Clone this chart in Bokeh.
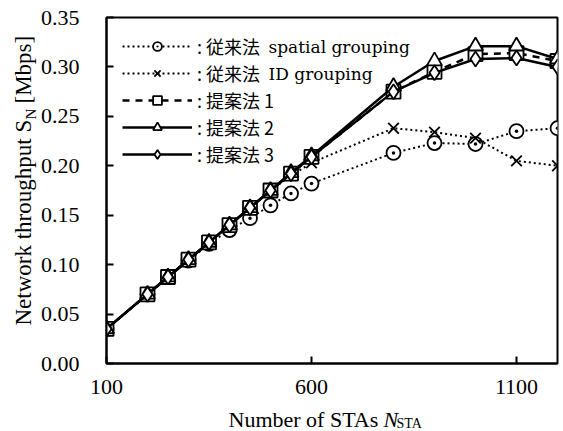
import math
from bokeh.plotting import figure
from bokeh.layouts import row, column
from bokeh.models import (Range1d, FixedTicker, PrintfTickFormatter, Legend, LegendItem, Label)
from bokeh.embed import file_html
from bokeh.resources import INLINE

# ---- data ----
n_sta = [100, 200, 250, 300, 350, 400, 450, 500, 550, 600, 800, 900, 1000, 1100, 1200]
conv_spatial = [0.035, 0.070, 0.0875, 0.104, 0.121, 0.135, 0.147, 0.160, 0.172, 0.182, 0.213, 0.223, 0.222, 0.235, 0.238]
conv_id = [0.035, 0.070, 0.0875, 0.105, 0.1225, 0.140, 0.1575, 0.175, 0.190, 0.203, 0.238, 0.234, 0.228, 0.205, 0.200]
prop1 = [0.035, 0.070, 0.0875, 0.105, 0.1225, 0.140, 0.1575, 0.175, 0.192, 0.209, 0.275, 0.295, 0.313, 0.314, 0.306]
prop2 = [0.035, 0.070, 0.0875, 0.105, 0.1225, 0.140, 0.1575, 0.175, 0.193, 0.210, 0.280, 0.306, 0.321, 0.321, 0.308]
prop3 = [0.035, 0.070, 0.0875, 0.105, 0.1225, 0.140, 0.1575, 0.175, 0.192, 0.209, 0.275, 0.294, 0.308, 0.309, 0.300]

legend_labels = [": 従来法", ": 従来法", ": 提案法 1", ": 提案法 2", ": 提案法 3"]
legend_suffix = ["spatial grouping", "ID grouping"]
x_ticks = [100, 600, 1100]
y_ticks = [0.0, 0.05, 0.10, 0.15, 0.20, 0.25, 0.30, 0.35]

SERIF = "Liberation Serif"
YLAB_W = 37      # width of the strip holding the y title
MAIN_H = 406     # height of the main plot (x title strip below it)

# ---- main plot ----
p = figure(width=563 - YLAB_W, height=MAIN_H, x_range=Range1d(100, 1200),
           y_range=Range1d(0, 0.35), output_backend="svg", toolbar_location=None,
           min_border_left=105 - YLAB_W, min_border_right=6, min_border_top=17,
           min_border_bottom=MAIN_H - 363)
p.grid.visible = False
p.outline_line_color = "black"
p.outline_line_width = 2
p.background_fill_color = "white"
p.border_fill_color = "white"

for ax in (p.xaxis[0], p.yaxis[0]):
    ax.axis_line_width = 2
    ax.major_tick_line_width = 2
    ax.major_tick_in = 7
    ax.major_tick_out = 0
    ax.minor_tick_line_color = None
    ax.major_label_text_font = SERIF
    ax.major_label_text_font_size = "22px"
    ax.major_label_text_color = "black"

p.xaxis.ticker = FixedTicker(ticks=x_ticks)
p.yaxis.ticker = FixedTicker(ticks=y_ticks)
p.yaxis.formatter = PrintfTickFormatter(format="%.2f")
p.yaxis.major_label_standoff = 27
p.xaxis.major_label_standoff = 16

# ---- series ----
series = [
    (conv_spatial, "circle_dot", "2 3", 2, 14),
    (conv_id, "x", "2 3", 2, 15),
    (prop1, "square", "7 6", 2.5, 14),
    (prop2, "triangle", None, 2.5, 15),
    (prop3, "diamond", None, 2.5, 15),
]
items = []
for (ys, marker, dash, lw, ms), lab in zip(series, legend_labels):
    kw = {}
    if dash:
        kw["line_dash"] = dash
    r_line = p.line(n_sta, ys, line_color="black", line_width=lw, **kw)
    r_sc = p.scatter(n_sta, ys, marker=marker, size=ms, line_color="black", line_width=1.8,
                     fill_color="white")
    items.append(LegendItem(label=lab, renderers=[r_line, r_sc]))

legend = Legend(items=items, location="top_left", margin=16, padding=0,
                glyph_width=70, glyph_height=22, label_height=22, spacing=1,
                label_standoff=5, label_text_font="Noto Sans CJK JP",
                label_text_font_size="18px", label_text_color="black",
                background_fill_alpha=0, border_line_color=None)
p.add_layout(legend)

for i, t in enumerate(legend_suffix):
    p.add_layout(Label(x=268 - YLAB_W, y=46 + 27.3 * i, x_units="canvas", y_units="canvas",
                       text=t, text_font="DejaVu Serif", text_font_size="17px",
                       text_color="black", text_align="left", text_baseline="middle"))


def strip(w, h):
    f = figure(width=w, height=h, output_backend="svg", toolbar_location=None,
               x_axis_type=None, y_axis_type=None, min_border=0,
               x_range=Range1d(0, 1), y_range=Range1d(0, 1))
    f.grid.visible = False
    f.outline_line_color = None
    f.background_fill_color = "white"
    f.border_fill_color = "white"
    return f


def lab(f, x, y, text, size, style="normal", angle=0.0):
    f.add_layout(Label(x=x, y=y, x_units="canvas", y_units="canvas", text=text,
                       angle=angle, text_font=SERIF, text_font_size=size,
                       text_font_style=style, text_align="left",
                       text_baseline="middle", text_color="black"))


# ---- y title strip: Network throughput S_N [Mbps] ----
ystrip = strip(YLAB_W, 431)
ang = math.pi / 2
lab(ystrip, 23, 325, "Network throughput S", "23px", angle=ang)
lab(ystrip, 30, 119, "N", "15px", angle=ang)
lab(ystrip, 23, 103, "[Mbps]", "23px", angle=ang)

# ---- x title strip: Number of STAs N_STA ----
xstrip = strip(563 - YLAB_W, 431 - MAIN_H)
lab(xstrip, 228 - YLAB_W, 418.5 - MAIN_H, "Number of STAs", "22px")
lab(xstrip, 383 - YLAB_W, 418.5 - MAIN_H, "N", "22px", style="italic")
lab(xstrip, 396 - YLAB_W, 423 - MAIN_H, "STA", "14px")

layout = row(ystrip, column(p, xstrip, spacing=0), spacing=0)
open("out.html", "w").write(file_html(layout, INLINE))
